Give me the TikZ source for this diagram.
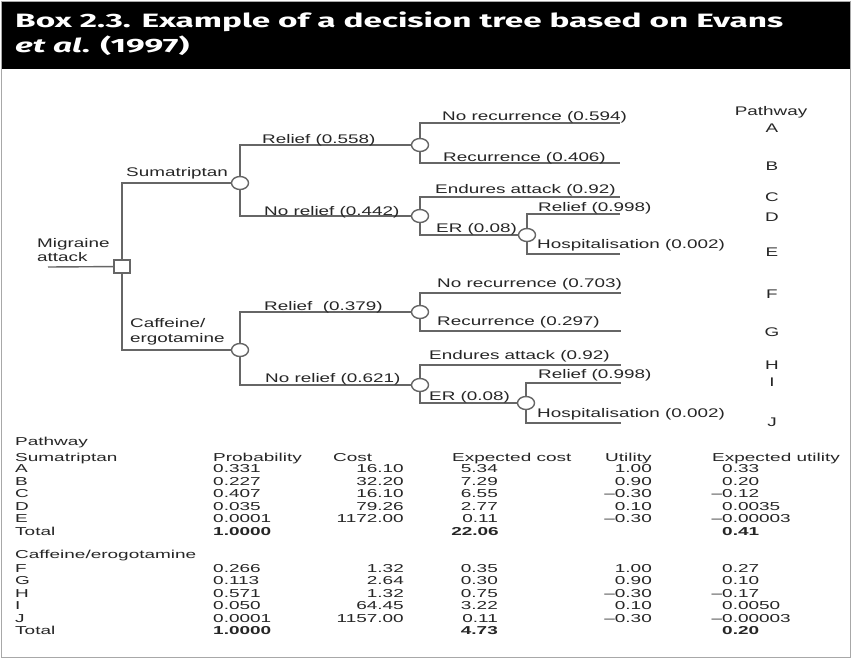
\documentclass[tikz,border=0pt]{standalone}
\usepackage{fontspec}
\setmainfont{Liberation Sans}
% wide-set sans for the tree labels and the table
\newfontfamily\treefam[FakeStretch=1.51]{Liberation Sans}
\newfontfamily\tabfam[FakeStretch=1.65]{Liberation Sans}
\newfontfamily\titlefam{Fira Sans}
\usetikzlibrary{shapes.geometric}
\definecolor{ink}{HTML}{262626}
\definecolor{linegray}{HTML}{666666}
\definecolor{framegray}{HTML}{A8A8A8}
\newsavebox\titlebox
\newlength\titlewd
\newcommand\hangminus{\llap{–}}
\newcommand\titlestyle{\titlefam\fontsize{19.3}{22}\selectfont\bfseries}
% set the first title line stretched to 768pt, keeping the factor for the second line
\newcommand\firsttitleline[1]{%
  \sbox\titlebox{\titlestyle #1}%
  \setlength\titlewd{\wd\titlebox}%
  \pgfmathsetmacro\tmpsx{768pt/\titlewd}%
  \global\let\titlesx\tmpsx
  \scalebox{\titlesx}[1]{\usebox\titlebox}}
\tikzset{
  edge/.style={draw=linegray, line width=1.4pt},
  chance/.style={ellipse, draw=linegray, line width=1.4pt, fill=white,
    minimum width=17pt, minimum height=13pt, inner sep=0pt},
  decision/.style={rectangle, draw=linegray, line width=1.4pt, fill=white,
    minimum width=16pt, minimum height=13pt, inner sep=0pt},
  lab/.style={anchor=west, inner sep=0pt, text=ink,
    font=\treefam\fontsize{12.5}{14}\selectfont, text height=9pt, text depth=0pt},
  pathletter/.style={lab, anchor=center},
  tab/.style={inner sep=0pt, text=ink,
    font=\tabfam\fontsize{11.5}{13}\selectfont, text height=8.2pt, text depth=0pt},
  tl/.style={tab, anchor=west},
  tr/.style={tab, anchor=east},
}
\begin{document}
\begin{tikzpicture}[x=1pt, y=-1pt]
\useasboundingbox (0,0) rectangle (853,659);
\fill[white] (0,0) rectangle (853,659);

% ---- title bar ----
\fill[black] (1,1.5) rectangle (850.5,68.5);
\draw[framegray, line width=1pt] (1,1) rectangle (850.5,657.5);
\node[anchor=base west, inner sep=0pt, text=white] (title1) at (15,27.3)
  {\firsttitleline{Box 2.3. Example of a decision tree based on Evans}};
\node[anchor=base west, inner sep=0pt, text=white] (title2) at (15,52.5)
  {\scalebox{\titlesx}[1]{\titlestyle\textit{et al}. (1997)}};

% ---- decision tree: nodes ----
\coordinate (root) at (48,267);
\node[decision] (dec) at (122,266.5) {};
\node[chance] (s)  at (240,183) {};
\node[chance] (c)  at (240,350) {};
\node[chance] (r1) at (420,145) {};
\node[chance] (n1) at (420,216) {};
\node[chance] (e1) at (527,235) {};
\node[chance] (r2) at (420,312) {};
\node[chance] (n2) at (420,385) {};
\node[chance] (e2) at (526,403) {};

% branch ends
\coordinate (endA) at (620,123);
\coordinate (endB) at (620,163);
\coordinate (endC) at (620,197);
\coordinate (endD) at (620,214);
\coordinate (endE) at (620,254);
\coordinate (endF) at (621,293);
\coordinate (endG) at (621,331);
\coordinate (endH) at (621,365);
\coordinate (endI) at (621,383);
\coordinate (endJ) at (621,423);

% ---- decision tree: connectors ----
\draw[edge] (root) -- (dec);
\draw[edge] (dec) |- (s);
\draw[edge] (dec) |- (c);
\draw[edge] (s) |- (r1);
\draw[edge] (s) |- (n1);
\draw[edge] (r1) |- (endA);
\draw[edge] (r1) |- (endB);
\draw[edge] (n1) |- (endC);
\draw[edge] (n1) |- (e1);
\draw[edge] (e1) |- (endD);
\draw[edge] (e1) |- (endE);
\draw[edge] (c) |- (r2);
\draw[edge] (c) |- (n2);
\draw[edge] (r2) |- (endF);
\draw[edge] (r2) |- (endG);
\draw[edge] (n2) |- (endH);
\draw[edge] (n2) |- (e2);
\draw[edge] (e2) |- (endI);
\draw[edge] (e2) |- (endJ);

% ---- decision tree: labels ----
\node[lab] (lmig)  at (37,243) {Migraine};
\node[lab] (latt)  at (37,257) {attack};
\node[lab] (lsum)  at (126,172) {Sumatriptan};
\node[lab] (lcaf1) at (130,323) {Caffeine/};
\node[lab] (lcaf2) at (130,338) {ergotamine};
\node[lab] (lr1)   at (262,139) {Relief (0.558)};
\node[lab] (ln1)   at (264,211) {No relief (0.442)};
\node[lab] (lA)    at (442,116) {No recurrence (0.594)};
\node[lab] (lB)    at (443,157) {Recurrence (0.406)};
\node[lab] (lC)    at (435,189) {Endures attack (0.92)};
\node[lab] (le1)   at (436,228) {ER (0.08)};
\node[lab] (lD)    at (538,207) {Relief (0.998)};
\node[lab] (lE)    at (537,244) {Hospitalisation (0.002)};
\node[lab] (lr2)   at (264,306) {Relief~ (0.379)};
\node[lab] (ln2)   at (265,378) {No relief (0.621)};
\node[lab] (lF)    at (437,283) {No recurrence (0.703)};
\node[lab] (lG)    at (437,321) {Recurrence (0.297)};
\node[lab] (lH)    at (429,355) {Endures attack (0.92)};
\node[lab] (le2)   at (429,396) {ER (0.08)};
\node[lab] (lI)    at (538,374) {Relief (0.998)};
\node[lab] (lJ)    at (537,413) {Hospitalisation (0.002)};

% pathway letters
\node[pathletter] (pw) at (771,111) {Pathway};
\foreach \k/\y in {A/128,B/166,C/197,D/217,E/252,F/294,G/332,H/365,I/382,J/422}
  \node[pathletter] (pw-\k) at (772,\y) {\k};

% ---- table ----
\node[tl] (t-path) at (15,441) {Pathway};
\node[tl] (t-sum)  at (15,457) {Sumatriptan};
\node[tl] (t-hp)   at (213,457) {Probability};
\node[tl] (t-hc)   at (333,457) {Cost};
\node[tl] (t-hec)  at (452,457) {Expected cost};
\node[tl] (t-hu)   at (605,457) {Utility};
\node[tl] (t-heu)  at (712,457) {Expected utility};

\foreach \k/\y/\p/\c/\ec/\u/\eu in {
    A/468/0.331/16.10/5.34/1.00/0.33,
    B/481/0.227/32.20/7.29/0.90/0.20,
    C/493.5/0.407/16.10/6.55/–0.30/\hangminus0.12,
    D/506/0.035/79.26/2.77/0.10/0.0035,
    E/518.5/0.0001/1172.00/0.11/–0.30/\hangminus0.00003,
    F/568/0.266/1.32/0.35/1.00/0.27,
    G/580.5/0.113/2.64/0.30/0.90/0.10,
    H/593/0.571/1.32/0.75/–0.30/\hangminus0.17,
    I/605.5/0.050/64.45/3.22/0.10/0.0050,
    J/618/0.0001/1157.00/0.11/–0.30/\hangminus0.00003}{
  \node[tl] (row-\k)    at (15,\y)  {\k};
  \node[tl] (row-\k-p)  at (213,\y) {\p};
  \node[tr] (row-\k-c)  at (404,\y) {\c};
  \node[tr] (row-\k-ec) at (498,\y) {\ec};
  \node[tr] (row-\k-u)  at (652,\y) {\u};
  \node[tl] (row-\k-eu) at (722,\y) {\eu};
}
\node[tl] (s-tot)    at (15,531)  {Total};
\node[tl] (s-tot-p)  at (213,531) {\bfseries 1.0000};
\node[tr] (s-tot-ec) at (499,531) {\bfseries 22.06};
\node[tl] (s-tot-eu) at (722,531) {\bfseries 0.41};

\node[tl] (t-caf)    at (15,554)  {Caffeine/erogotamine};
\node[tl] (c-tot)    at (15,630.5)  {Total};
\node[tl] (c-tot-p)  at (213,630.5) {\bfseries 1.0000};
\node[tr] (c-tot-ec) at (498,630.5) {\bfseries 4.73};
\node[tl] (c-tot-eu) at (722,630.5) {\bfseries 0.20};
\end{tikzpicture}
\end{document}
